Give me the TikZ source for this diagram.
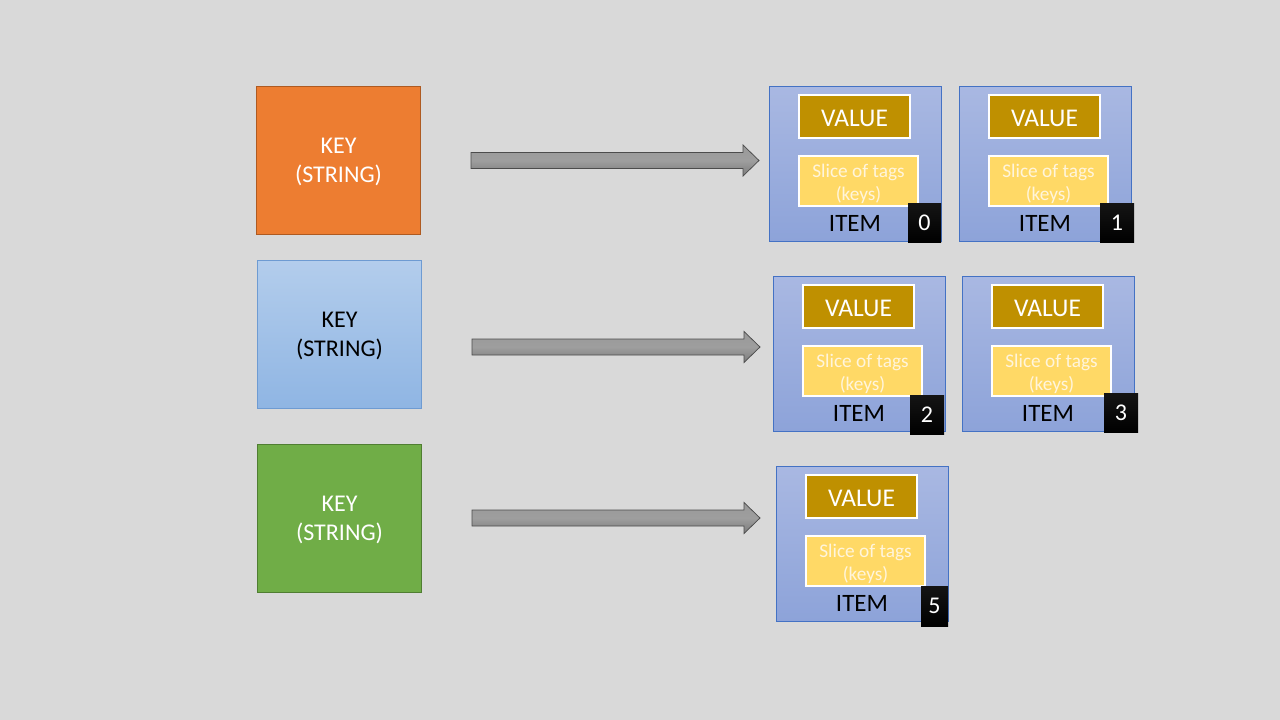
\documentclass[tikz,border=0pt]{standalone}
\usepackage{fontspec}
\setmainfont{Carlito}
\definecolor{bgc}{HTML}{D9D9D9}
\definecolor{orangek}{HTML}{ED7D31}
\definecolor{orangeb}{HTML}{AE5A21}
\definecolor{greenk}{HTML}{70AD47}
\definecolor{greenb}{HTML}{507E32}
\definecolor{bluekt}{HTML}{B3CDEC}
\definecolor{bluekb}{HTML}{8FB5E3}
\definecolor{bluekbd}{HTML}{6E9BD2}
\definecolor{itemt}{HTML}{A9B8E2}
\definecolor{itemb}{HTML}{8DA3D9}
\definecolor{itembd}{HTML}{4472C4}
\definecolor{valc}{HTML}{BF9000}
\definecolor{slicec}{HTML}{FFD966}
\definecolor{slicetxt}{HTML}{FFF5DC}
\tikzset{
  keybox/.style={rectangle, inner sep=0pt, outer sep=0pt, line width=0.75pt,
    minimum width=164pt, minimum height=148pt},
  keytext/.style={align=center, inner sep=0pt, font=\fontsize{24}{29}\selectfont},
  itembox/.style={rectangle, inner sep=0pt, outer sep=0pt, line width=0.75pt,
    draw=itembd, top color=itemt, bottom color=itemb,
    minimum width=172pt, minimum height=155pt},
  valbox/.style={rectangle, inner sep=0pt, outer sep=0pt, line width=1.5pt,
    draw=white, fill=valc, minimum width=111pt, minimum height=43pt},
  valtext/.style={inner sep=0pt, text=white, font=\fontsize{25.5}{30}\selectfont},
  slicebox/.style={rectangle, inner sep=0pt, outer sep=0pt, line width=1.5pt,
    draw=white, fill=slicec, minimum width=119pt, minimum height=50pt},
  slicetext/.style={inner sep=0pt, text=slicetxt, align=center,
    font=\fontsize{19.3}{23}\selectfont},
  itemlabel/.style={inner sep=0pt, text=black, font=\fontsize{25}{30}\selectfont},
  badge/.style={rectangle, inner sep=0pt, outer sep=0pt, top color=black!92,
    bottom color=black, text=white, font=\fontsize{24}{29}\selectfont},
  blockarrow/.style={line width=0.75pt, draw=black!70, top color=black!40,
    bottom color=black!52, middle color=black!38},
}
% #1 name, #2 left, #3 top, #4 number, #5 badge left, #6 badge top, #7 badge right, #8 badge bottom
\newcommand\mkitem[8]{%
  \node[itembox] (#1) at ({#2+86},{#3+77.5}) {};
  \node[valbox] (#1v) at ({#2+85.5},{#3+30.5}) {};
  \node[valtext] (#1vt) at ({#2+85.5},{#3+32.5}) {VALUE};
  \node[slicebox] (#1s) at ({#2+89.5},{#3+95}) {};
  \node[slicetext] (#1st) at ({#2+89.5},{#3+97.5}) {Slice of tags\\(keys)};
  \node[itemlabel] (#1l) at ({#2+86},{#3+137}) {ITEM};
  \node[badge, minimum width={#7-#5}, minimum height={#8-#6}] (#1b)
    at ({(#5+#7)/2},{(#6+#8)/2}) {#4};
}
\newcommand\mkarrow[3]{%
  \coordinate (#1) at (#2,#3);
  \begin{scope}[shift={(#1)}]
    \shade[blockarrow] (0,-8) -- (272,-8) -- (272,-15.5) -- (288,0)
      -- (272,15.5) -- (272,8) -- (0,8) -- cycle;
  \end{scope}
}
\begin{document}
\begin{tikzpicture}[x=1pt,y=-1pt]
\fill[bgc] (0,0) rectangle (1280,720);
\useasboundingbox (0,0) rectangle (1280,720);

\node[keybox, draw=orangeb, fill=orangek] (k1) at (338.5,160.5) {};
\node[keytext, text=white] (t1) at (338.5,162) {KEY\\(STRING)};
\node[keybox, draw=bluekbd, top color=bluekt, bottom color=bluekb] (k2) at (339.5,334.5) {};
\node[keytext, text=black] (t2) at (339.5,336) {KEY\\(STRING)};
\node[keybox, draw=greenb, fill=greenk] (k3) at (339.5,518) {};
\node[keytext, text=white] (t3) at (339.5,519.5) {KEY\\(STRING)};

\mkarrow{a1}{471}{160.5}
\mkarrow{a2}{472}{347}
\mkarrow{a3}{472}{518}

\mkitem{i0}{769}{86}{0}{908}{203}{941}{242}
\mkitem{i1}{959}{86}{1}{1100}{203}{1134}{242}
\mkitem{i2}{773}{276}{2}{910}{395}{944}{434}
\mkitem{i3}{962}{276}{3}{1104}{393}{1138}{432}
\mkitem{i5}{776}{466}{5}{921}{586}{948}{626}
\end{tikzpicture}
\end{document}
